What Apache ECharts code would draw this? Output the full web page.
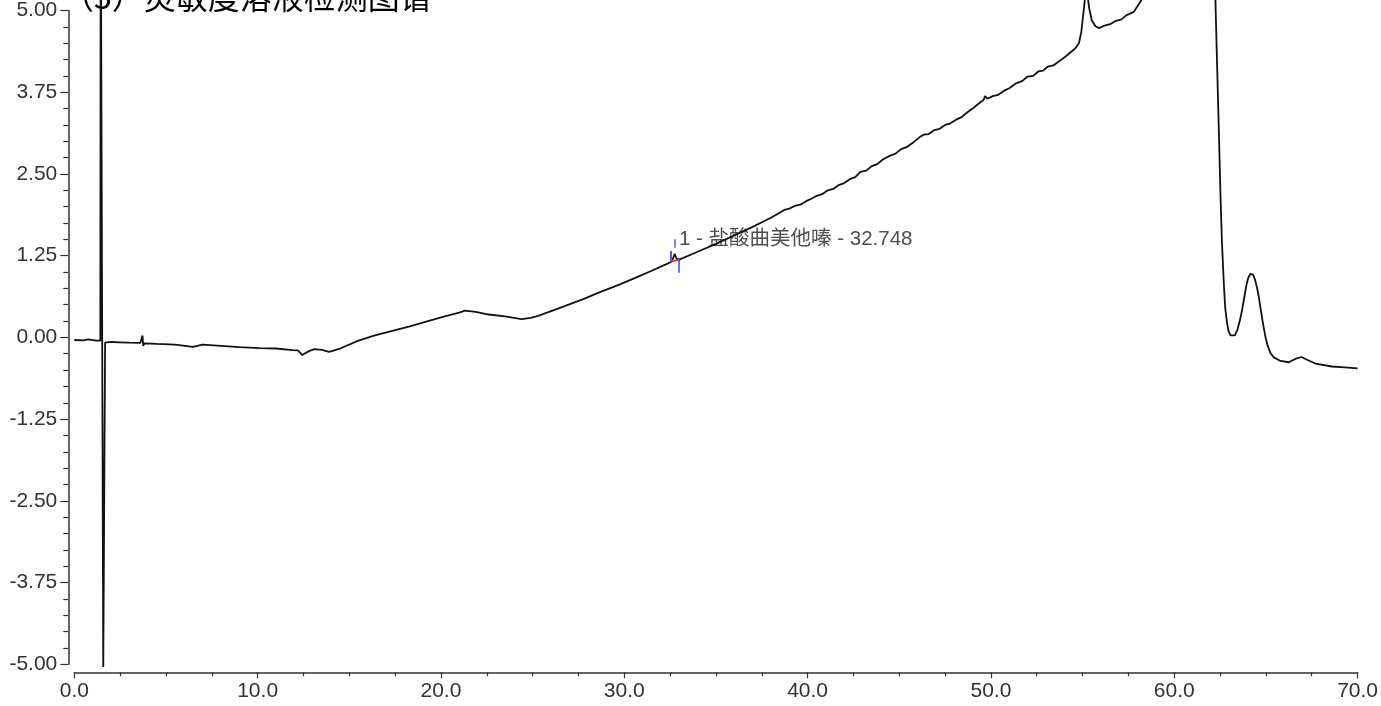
<!DOCTYPE html>
<html>
<head>
<meta charset="utf-8">
<script src="https://cdn.jsdelivr.net/npm/echarts@6/dist/echarts.min.js"></script>
<style>
html,body{margin:0;padding:0;background:#fff;}
#chart{width:1381px;height:706px;}
</style>
</head>
<body>
<div id="chart"></div>
<script>
// ---- data ----
const titleText = "（5）灵敏度溶液检测图谱";
const times = [
  0, 0.5, 0.76, 0.82, 1.2, 1.42, 1.44, 1.50, 1.58, 1.62, 1.68,
  2.0, 2.5, 3.0, 3.6, 3.70, 3.72, 3.76, 3.82, 4.5, 5.5, 6.47, 7.0, 8.0, 9.0, 10.1, 11.0, 11.9,
  12.2, 12.43, 12.8, 13.1, 13.5, 13.9, 14.5, 15.5, 16.4, 17.35, 18.3, 19.2, 20.2, 21.0, 21.3,
  21.9, 22.6, 23.5, 24.4, 24.9, 25.3, 25.4, 26.2, 26.96, 27.8, 28.57, 29.66, 30.6, 31.5, 32.3,
  32.52, 32.65, 32.75, 32.85, 33.0, 34.0, 35.0, 36.0, 37.0, 38.0,
  38.73, 39.0, 39.3, 39.6, 39.9, 40.2, 40.53, 40.8, 41.1, 41.4, 41.7, 42.0, 42.3, 42.6,
  42.88, 43.2, 43.5, 43.8, 44.1, 44.51, 44.8, 45.1, 45.4, 45.8, 46.1, 46.33, 46.6, 46.9,
  47.2, 47.5, 47.77, 48.1, 48.4, 48.7, 49.0, 49.3, 49.59, 49.68, 49.8, 50.1, 50.4, 50.7,
  51.0, 51.4, 51.7, 52.0, 52.3, 52.6, 52.85, 53.1, 53.4, 53.7, 54.0, 54.3, 54.6, 54.8,
  54.93, 55.1, 55.2, 55.35, 55.5, 55.7, 55.9, 56.2, 56.5, 56.8, 57.1, 57.4, 57.8,
  58.3, 59.0, 60.0, 61.0, 61.8, 62.1, 62.26, 62.42, 62.52, 62.6, 62.7, 62.78, 62.88, 62.96,
  63.07, 63.17, 63.3, 63.45, 63.6, 63.72, 63.85, 63.95, 64.05, 64.15, 64.22, 64.3, 64.4,
  64.5, 64.62, 64.72, 64.85, 64.98, 65.1, 65.25, 65.45, 65.8, 66.25,
  66.6, 66.94, 67.3, 67.7, 68.6, 69.3, 70.0
];
const signal = [
  -0.04, -0.045, -0.03, -0.05, -0.05, -0.05, 7.0, 7.0, -5.04, -5.04, -0.08,
  -0.07, -0.075, -0.08, -0.085, -0.06, 0.03, -0.13, -0.09, -0.10, -0.11, -0.145, -0.11, -0.13, -0.15, -0.165, -0.17, -0.195,
  -0.20, -0.27, -0.21, -0.18, -0.19, -0.22, -0.17, -0.05, 0.03, 0.10, 0.17, 0.24, 0.32, 0.38, 0.41,
  0.39, 0.35, 0.32, 0.28, 0.30, 0.33, 0.35, 0.42, 0.50, 0.59, 0.68, 0.80, 0.91, 1.02, 1.12,
  1.15, 1.20, 1.28, 1.20, 1.19, 1.31, 1.43, 1.56, 1.69, 1.83,
  1.95, 1.97, 2.01, 2.03, 2.08, 2.12, 2.17, 2.19, 2.25, 2.27, 2.33, 2.36, 2.42, 2.45,
  2.53, 2.55, 2.62, 2.65, 2.72, 2.78, 2.81, 2.88, 2.91, 2.99, 3.06, 3.10, 3.11, 3.17,
  3.19, 3.25, 3.27, 3.33, 3.37, 3.44, 3.50, 3.57, 3.63, 3.69, 3.65, 3.69, 3.71, 3.77,
  3.81, 3.89, 3.92, 3.99, 4.00, 4.07, 4.08, 4.14, 4.16, 4.22, 4.28, 4.35, 4.42, 4.50,
  4.67, 5.10, 5.40, 5.05, 4.85, 4.76, 4.73, 4.77, 4.79, 4.84, 4.86, 4.93, 4.98,
  5.20, 6.0, 9.0, 14.0, 12.0, 7.0, 5.00, 3.30, 2.20, 1.47, 0.85, 0.45, 0.22, 0.10,
  0.03, 0.01, 0.03, 0.12, 0.28, 0.45, 0.66, 0.82, 0.92, 0.97, 0.975, 0.96, 0.89,
  0.78, 0.61, 0.42, 0.20, 0.00, -0.13, -0.24, -0.31, -0.36, -0.38,
  -0.33, -0.30, -0.35, -0.40, -0.445, -0.46, -0.475
];
const xTickLabels = [0, 10, 20, 30, 40, 50, 60, 70];
const yTickLabels = [-5, -3.75, -2.5, -1.25, 0, 1.25, 2.5, 3.75, 5];

// peak annotation
const peakLabel = "1 - 盐酸曲美他嗪 - 32.748";
const peakLabelAt = [32.98, 1.50];
const retentionMark = [[32.77, 1.50], [32.77, 1.37]];
const peakStartMark = [[32.52, 1.32], [32.52, 1.16]];
const peakEndMark = [[32.97, 1.22], [32.97, 0.99]];
const baselineMark = [[32.55, 1.156], [33.0, 1.19]];

// ---- chart ----
const seriesData = times.map((t, i) => [t, signal[i]]);
const chart = echarts.init(document.getElementById('chart'), null, {renderer: 'canvas'});
const axisColor = '#333';
const labelFont = 'Liberation Sans, Arial, sans-serif';

chart.setOption({
  animation: false,
  backgroundColor: '#fff',
  graphic: [{
    type: 'text',
    left: 62,
    top: -19,
    style: {
      text: titleText,
      font: '32px "Noto Sans CJK SC"',
      fill: '#000'
    }
  }],
  grid: {left: 74.3, right: 18.7, top: 9, bottom: 41.7, containLabel: false},
  xAxis: {
    type: 'value',
    min: 0, max: 70, interval: 10,
    offset: 8,
    axisLine: {show: true, onZero: false, lineStyle: {color: axisColor, width: 1.5}},
    axisTick: {show: true, length: 6, lineStyle: {color: axisColor, width: 1.2}},
    minorTick: {show: true, splitNumber: 4, length: 4, lineStyle: {color: axisColor, width: 1.2}},
    splitLine: {show: false},
    axisLabel: {
      fontSize: 21, color: '#333', fontFamily: labelFont, margin: 8,
      formatter: v => xTickLabels.includes(v) ? v.toFixed(1) : ''
    }
  },
  yAxis: {
    type: 'value',
    min: -5, max: 5, interval: 1.25,
    offset: 6,
    axisLine: {show: true, onZero: false, lineStyle: {color: axisColor, width: 1.5}},
    axisTick: {show: true, length: 8, lineStyle: {color: axisColor, width: 1.2}},
    minorTick: {show: true, splitNumber: 5, length: 5, lineStyle: {color: axisColor, width: 1.2}},
    splitLine: {show: false},
    axisLabel: {
      fontSize: 21, color: '#333', fontFamily: labelFont, margin: 11,
      formatter: v => yTickLabels.includes(v) ? v.toFixed(2) : ''
    }
  },
  series: [
    {
      type: 'line',
      data: seriesData,
      showSymbol: false,
      clip: false,
      lineStyle: {color: '#111', width: 1.8},
      silent: true,
      markLine: {
        silent: true,
        symbol: ['none', 'none'],
        label: {show: false},
        data: [
          [{coord: retentionMark[0], lineStyle: {color: '#5a5af0', width: 1.5, type: 'solid'}}, {coord: retentionMark[1]}],
          [{coord: peakStartMark[0], lineStyle: {color: '#5a5af0', width: 2, type: 'solid'}}, {coord: peakStartMark[1]}],
          [{coord: peakEndMark[0], lineStyle: {color: '#3a3af0', width: 1.5, type: 'solid'}}, {coord: peakEndMark[1]}],
          [{coord: baselineMark[0], lineStyle: {color: '#e02020', width: 1.5, type: 'solid'}}, {coord: baselineMark[1]}]
        ]
      }
    },
    {
      type: 'scatter',
      data: [peakLabelAt],
      symbolSize: 0,
      silent: true,
      label: {
        show: true,
        position: 'right',
        distance: 0,
        formatter: peakLabel,
        fontSize: 20.5,
        color: '#222',
        fontFamily: 'Liberation Sans, "Noto Sans CJK SC", sans-serif'
      }
    }
  ]
});
</script>
</body>
</html>
